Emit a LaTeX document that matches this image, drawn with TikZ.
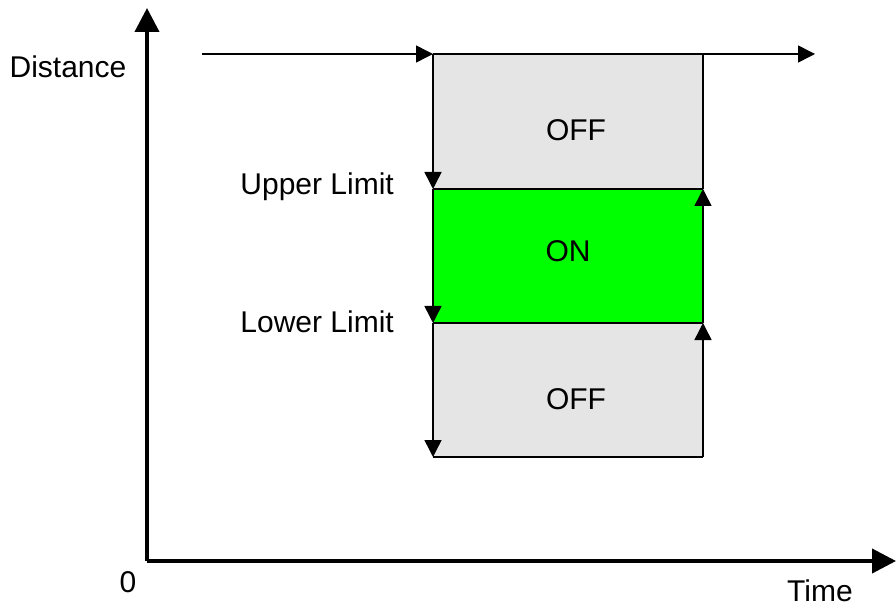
\documentclass[tikz,border=0pt]{standalone}
\usepackage{fontspec}
\setmainfont{Liberation Sans}
\usetikzlibrary{arrows.meta}
\definecolor{offgray}{HTML}{E5E5E5}
\definecolor{ongreen}{HTML}{00FF00}
\tikzset{
  axis/.style={line width=4pt, -{Triangle[length=24pt,width=24pt]}},
  flow/.style={line width=1.5pt, -{Triangle[length=17pt,width=17pt]}},
  edge/.style={line width=2pt},
  lbl/.style={font=\fontsize{30}{35}\selectfont, inner sep=0pt},
}
\begin{document}
\begin{tikzpicture}[x=1pt,y=-1pt]
\useasboundingbox (0,0) rectangle (896,609);
% regions
\fill[offgray] (433,54) rectangle (703,189);
\fill[ongreen] (433,189) rectangle (703,323);
\fill[offgray] (433,323) rectangle (703,457);
% coordinates
\coordinate (o) at (147,561);
\coordinate (ytop) at (147,8);
\coordinate (xend) at (896,561);
\coordinate (start) at (202,54);
\coordinate (tl) at (433,54);
\coordinate (tr) at (703,54);
\coordinate (tend) at (815,54);
\coordinate (ul) at (433,189);
\coordinate (ur) at (703,189);
\coordinate (ll) at (433,323);
\coordinate (lr) at (703,323);
\coordinate (bl) at (433,457);
\coordinate (br) at (703,457);
% edges
\draw[edge] (ul) -- (ur);
\draw[edge] (ll) -- (lr);
\draw[edge] (bl) -- (br);
\draw[edge] (tr) -- (ur);
\draw[line width=1.5pt] (tl) -- (tr);
% flow arrows
\draw[flow] (start) -- (tl);
\draw[flow] (tr) -- (tend);
\draw[flow] (tl) -- (ul);
\draw[flow] (ul) -- (ll);
\draw[flow] (ll) -- (bl);
\draw[flow] (br) -- (lr);
\draw[flow] (lr) -- (ur);
% axes
\draw[axis] (o) -- (ytop);
\draw[axis] (o) -- (xend);
% labels
\node[lbl] (dist) at (68,67) {Distance};
\node[lbl, anchor=east] (upper) at (394,187) {Upper Limit};
\node[lbl, anchor=east] (lower) at (394,322) {Lower Limit};
\node[lbl] (off1) at (576,130) {OFF};
\node[lbl] (on) at (568,251) {ON};
\node[lbl] (off2) at (576,399) {OFF};
\node[lbl] (zero) at (128,582) {0};
\node[lbl] (time) at (820,591) {Time};
\end{tikzpicture}
\end{document}
